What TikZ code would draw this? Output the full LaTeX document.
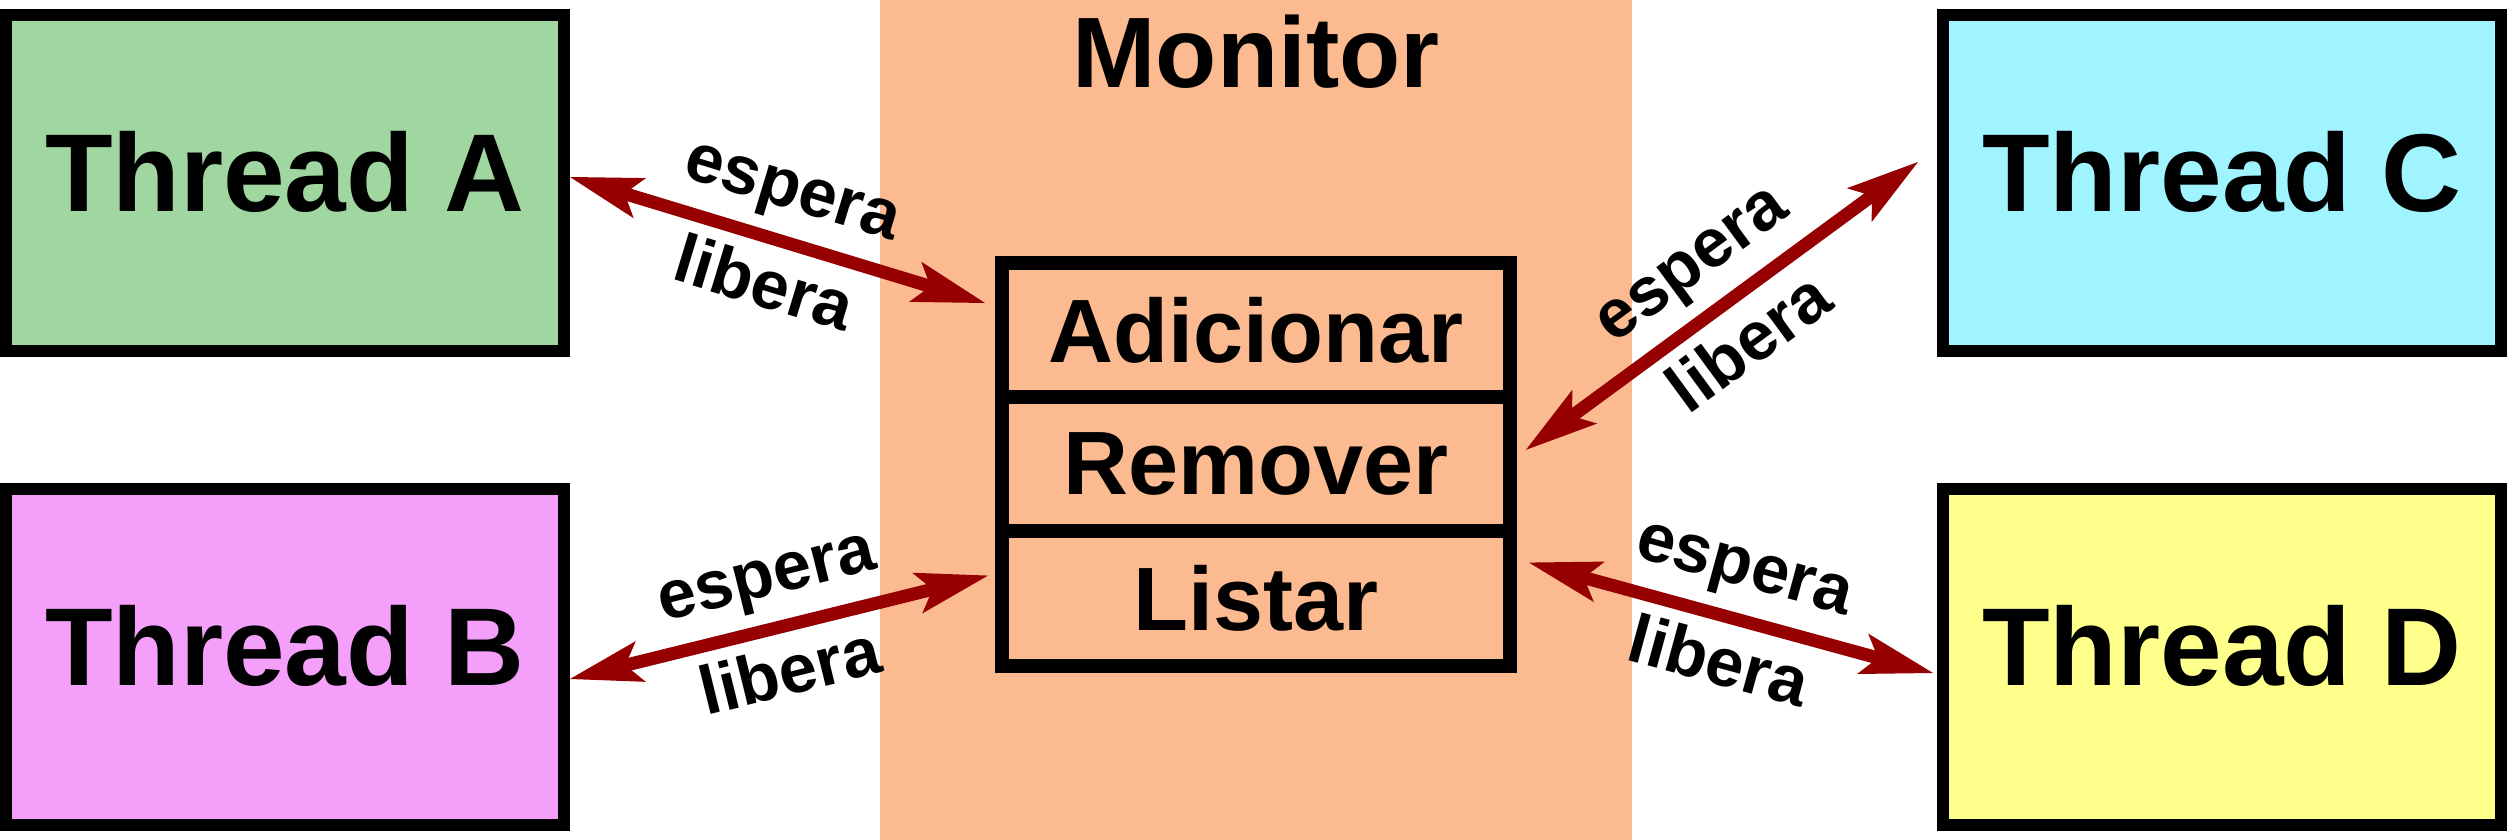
\documentclass[tikz,border=0pt]{standalone}
\usepackage{fontspec}
\setmainfont{Liberation Sans}
\usetikzlibrary{arrows.meta, positioning}

\definecolor{verdeA}{RGB}{160,215,160}
\definecolor{rosaB}{RGB}{244,160,250}
\definecolor{cianoC}{RGB}{160,244,255}
\definecolor{amareloD}{RGB}{255,255,140}
\definecolor{pessego}{RGB}{252,186,145}
\definecolor{seta}{RGB}{150,0,0}

\begin{document}
\begin{tikzpicture}[
  thread/.style={draw, line width=0.12cm, minimum width=5.58cm, minimum height=3.36cm,
    inner sep=0pt, text depth=0.24cm, font=\fontsize{31.5}{36}\selectfont\bfseries},
  metodo/.style={draw, line width=0.14cm, minimum width=5.08cm, minimum height=1.343cm,
    inner sep=0pt, outer sep=0pt, font=\fontsize{25.6}{30}\selectfont\bfseries},
  troca/.style={{Stealth[length=7.3mm, width=4.2mm, inset=1.6mm, line width=0pt]}-{Stealth[length=7.3mm, width=4.2mm, inset=1.6mm, line width=0pt]},
    line width=0.13cm, draw=seta},
  rotulo/.style={font=\fontsize{19.5}{22}\selectfont\bfseries, sloped, midway, inner sep=3.5pt}
]
  \useasboundingbox (0,0) rectangle (25.07,8.40);

  % Monitor
  \fill[pessego] (8.80,0) rectangle (16.32,8.40);
  \node[font=\fontsize{28.5}{33}\selectfont\bfseries] (titulo) at (12.56,7.88) {Monitor};
  \node[metodo] (add) at (12.56,5.10) {Adicionar};
  \node[metodo, below=0pt of add] (rem) {Remover};
  \node[metodo, below=0pt of rem] (list) {Listar};

  % Threads
  \node[thread, fill=verdeA] (A) at (2.85,6.57) {Thread A};
  \node[thread, fill=rosaB] (B) at (2.85,1.83) {Thread B};
  \node[thread, fill=cianoC] (C) at (22.22,6.57) {Thread C};
  \node[thread, fill=amareloD] (D) at (22.22,1.83) {Thread D};

  % espera / libera
  \draw[troca] ([yshift=0.06cm]A.east) -- ([shift={(-0.17,0.27)}]add.west)
    node[rotulo, above] {espera} node[rotulo, below] {libera};
  \draw[troca] ([yshift=-0.22cm]B.east) -- ([shift={(-0.14,0.23)}]list.west)
    node[rotulo, above] {espera} node[rotulo, below] {libera};
  \draw[troca] ([shift={(0.16,0.145)}]rem.east) -- ([shift={(-0.19,0.21)}]C.west)
    node[rotulo, above] {espera} node[rotulo, below] {libera};
  \draw[troca] ([shift={(0.19,0.36)}]list.east) -- ([shift={(-0.04,-0.16)}]D.west)
    node[rotulo, above] {espera} node[rotulo, below] {libera};
\end{tikzpicture}
\end{document}
